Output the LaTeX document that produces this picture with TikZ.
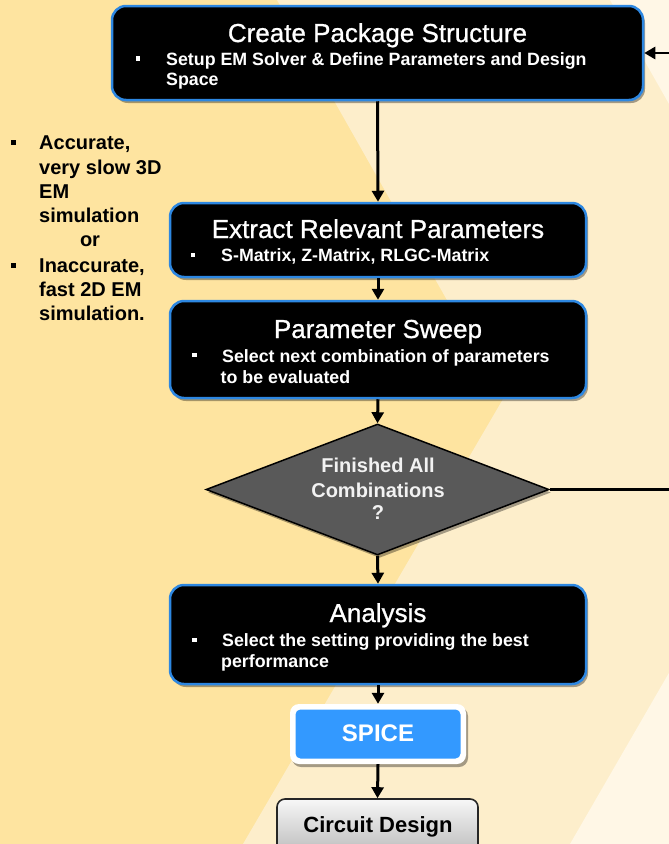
\documentclass[tikz,border=0pt]{standalone}
\usepackage{fontspec}
\setmainfont{Liberation Sans}
\newfontfamily\titlefont[FakeBold=0.9]{Liberation Sans}
\usetikzlibrary{arrows.meta,shadows,shapes.geometric}
\definecolor{bgA}{RGB}{254,228,160}
\definecolor{bgB}{RGB}{253,238,203}
\definecolor{bgC}{RGB}{255,247,230}
\definecolor{boxblue}{RGB}{45,135,225}
\definecolor{spiceblue}{RGB}{51,153,255}
\definecolor{diagray}{RGB}{89,89,89}
\definecolor{cdtop}{RGB}{247,247,247}
\definecolor{cdbot}{RGB}{180,180,180}
\begin{document}
\begin{tikzpicture}[x=1pt,y=-1pt,
  shad/.style={drop shadow={shadow xshift=2pt,shadow yshift=-3pt,opacity=.35,fill=black}},
  procbox/.style={draw=boxblue,line width=2.5pt,fill=black,rounded corners=14pt,inner sep=0pt,shad},
  ttl/.style={text=white,font=\titlefont\fontsize{26}{30}\selectfont,inner sep=0pt,anchor=base},
  body/.style={text=white,font=\bfseries\fontsize{17.8}{21}\selectfont,inner sep=0pt,anchor=base west},
  bul/.style={fill=white,rectangle,minimum size=4.5pt,inner sep=0pt},
  lbul/.style={fill=black,rectangle,minimum size=5pt,inner sep=0pt},
  side/.style={text=black,font=\bfseries\fontsize{20}{24}\selectfont,inner sep=0pt,anchor=base west},
  dtxt/.style={text=white!95!black,font=\bfseries\fontsize{20}{24}\selectfont,inner sep=0pt,anchor=base},
  arr/.style={draw=black,line width=3pt,-{Triangle[width=12pt,length=11pt]}}
]
\useasboundingbox (0,0) rectangle (669,844);
\clip (0,0) rectangle (669,844);
% background bands
\fill[bgA] (0,0) rectangle (669,844);
\fill[bgB] (277,0) -- (503,399) -- (243,844) -- (700,844) -- (700,0) -- cycle;
\fill[bgC] (610,0) -- (832,391) -- (570,844) -- (900,844) -- (900,0) -- cycle;

% box 1
\node[procbox,minimum width=531pt,minimum height=94pt] (b1) at (377.5,53) {};
\node[ttl] (t1) at (377.5,42) {Create Package Structure};
\node[bul] (u1) at (138,58.5) {};
\node[body] (s1a) at (166,65) {Setup EM Solver \& Define Parameters and Design};
\node[body] (s1b) at (166,85) {Space};

% box 2
\node[procbox,minimum width=416pt,minimum height=74pt] (b2) at (378,240) {};
\node[ttl] (t2) at (378,238) {Extract Relevant Parameters};
\node[bul] (u2) at (193,255) {};
\node[body] (s2a) at (221,261) {S-Matrix, Z-Matrix, RLGC-Matrix};

% box 3
\node[procbox,minimum width=416pt,minimum height=97pt] (b3) at (378,349.5) {};
\node[ttl] (t3) at (378,338) {Parameter Sweep};
\node[bul] (u3) at (194.5,355) {};
\node[body] (s3a) at (222,362) {Select next combination of parameters};
\node[body] (s3b) at (220.5,383) {to be evaluated};

% decision
\node[diamond,draw=black,line width=1.5pt,fill=diagray,minimum width=343pt,minimum height=131pt,inner sep=0pt,shad] (dia) at (377.5,489.5) {};
\node[dtxt] (d1) at (378,472.5) {Finished All};
\node[dtxt] (d2) at (378,497) {Combinations};
\node[dtxt] (d3) at (378,519.5) {?};

% box 4
\node[procbox,minimum width=416pt,minimum height=99pt] (b4) at (378,634.5) {};
\node[ttl] (t4) at (378,622) {Analysis};
\node[bul] (u4) at (194.5,640) {};
\node[body] (s4a) at (222,646) {Select the setting providing the best};
\node[body] (s4b) at (221,667) {performance};

% SPICE
\node[fill=white,rounded corners=9pt,minimum width=176pt,minimum height=60pt,inner sep=0pt,shad] (spo) at (378,734) {};
\node[fill=spiceblue,rounded corners=5pt,minimum width=165pt,minimum height=49pt,inner sep=0pt] (spi) at (378,734) {};
\node[text=white,font=\bfseries\fontsize{24}{28}\selectfont,inner sep=0pt,anchor=base] (spt) at (378,741) {SPICE};

% circuit design
\node[draw=black!85,line width=1.6pt,rounded corners=8pt,top color=cdtop,bottom color=cdbot,minimum width=201pt,minimum height=62pt,inner sep=0pt] (cd) at (377.5,830) {};
\node[text=black,font=\bfseries\fontsize{22}{26}\selectfont,inner sep=0pt,anchor=base] (cdt) at (378,832) {Circuit Design};

% side notes
\node[lbul] (l1) at (13.5,142) {};
\node[side] (n1) at (39,149) {Accurate,};
\node[side] (n2) at (39,174) {very slow 3D};
\node[side] (n3) at (39,198) {EM};
\node[side] (n4) at (39,222) {simulation};
\node[text=black,font=\bfseries\fontsize{20}{24}\selectfont,inner sep=0pt,anchor=base] (n5) at (90,246) {or};
\node[lbul] (l2) at (13.5,265) {};
\node[side] (n6) at (39,272) {Inaccurate,};
\node[side] (n7) at (39,296) {fast 2D EM};
\node[side] (n8) at (39,320) {simulation.};

% connectors
\draw[arr] (b1.south) -- (b2.north);
\draw[arr] (b2.south) -- (b3.north);
\draw[arr] (b3.south) -- (dia.north);
\draw[arr] (dia.south) -- (b4.north);
\draw[arr] (b4.south) -- (spo.north);
\draw[arr] (spo.south) -- (cd.north);
\draw[arr,line width=2.6pt] (dia.east) -- (720,489.5) |- (b1.east);
\end{tikzpicture}
\end{document}
